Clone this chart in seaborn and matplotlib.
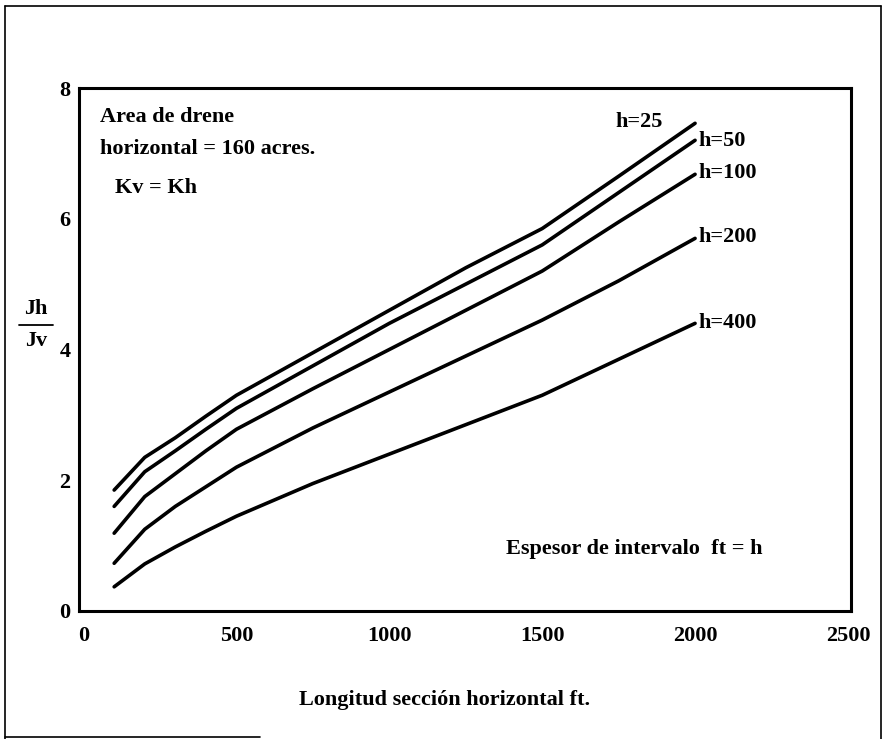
import matplotlib
matplotlib.use("Agg")
import matplotlib.pyplot as plt
import seaborn as sns
import pandas as pd
from matplotlib.lines import Line2D

# ---- data ----
x_ft = [100, 200, 300, 400, 500, 750, 1000, 1250, 1500, 1750, 2000]
h25 = [1.85, 2.35, 2.65, 2.98, 3.30, 3.95, 4.60, 5.25, 5.85, 6.65, 7.46]
h50 = [1.60, 2.13, 2.45, 2.78, 3.10, 3.75, 4.40, 5.00, 5.60, 6.40, 7.20]
h100 = [1.19, 1.75, 2.10, 2.45, 2.78, 3.40, 4.00, 4.60, 5.20, 5.95, 6.68]
h200 = [0.73, 1.25, 1.60, 1.90, 2.20, 2.80, 3.35, 3.90, 4.45, 5.05, 5.70]
h400 = [0.37, 0.72, 0.98, 1.22, 1.45, 1.95, 2.40, 2.85, 3.30, 3.85, 4.40]
series_names = ["h=25", "h=50", "h=100", "h=200", "h=400"]
series_vals = [h25, h50, h100, h200, h400]
x_ticks = [0, 500, 1000, 1500, 2000, 2500]
y_ticks = [0, 2, 4, 6, 8]

rows = []
for name, vals in zip(series_names, series_vals):
    for xv, yv in zip(x_ft, vals):
        rows.append({"L": xv, "J": yv, "h": name})
df = pd.DataFrame(rows)

sns.set_theme(style="white")
plt.rcParams["font.family"] = ["Liberation Serif", "DejaVu Serif"]
plt.rcParams["font.weight"] = "bold"
plt.rcParams["text.color"] = "black"
plt.rcParams["xtick.color"] = "black"
plt.rcParams["ytick.color"] = "black"

W, H = 884, 739
fig = plt.figure(figsize=(W / 100, H / 100), dpi=100)
ax = fig.add_axes([79 / W, 1 - 611 / H, (851 - 79) / W, (611 - 88) / H])

sns.lineplot(data=df, x="L", y="J", hue="h", palette=["black"] * 5,
             linewidth=2.6, legend=False, ax=ax, sort=False)

ax.set_xlim(-15, 2510)
ax.set_ylim(0, 8)
ax.set_xticks(x_ticks)
ax.set_yticks(y_ticks)
ax.set_xticklabels([str(t) for t in x_ticks], fontsize=16, fontweight="bold", color="black")
ax.set_yticklabels([str(t) for t in y_ticks], fontsize=16, fontweight="bold", color="black")
ax.tick_params(axis="both", length=0)
ax.tick_params(axis="x", pad=11)
ax.tick_params(axis="y", pad=6)
ax.set_xlabel("")
ax.set_ylabel("")
for s in ax.spines.values():
    s.set_color("black")
    s.set_linewidth(2.2)

tfs = 16
def ftext(px, py, s, ha="left"):
    fig.text(px / W, 1 - py / H, s, ha=ha, va="center", fontsize=tfs,
             fontweight="bold", color="black")

ftext(615, 122, "h=25")
ftext(698, 141, "h=50")
ftext(698, 173, "h=100")
ftext(698, 237, "h=200")
ftext(698, 323, "h=400")

ftext(100, 117, "Area de drene")
ftext(100, 149, "horizontal = 160 acres.")
ftext(115, 188, "Kv = Kh")
ftext(762, 549, "Espesor de intervalo  ft = h", ha="right")

fig.text(445 / W, 1 - 700 / H, "Longitud sección horizontal ft.", ha="center",
         va="center", fontsize=tfs, fontweight="bold", color="black")

# y label as a fraction Jh / Jv
fig.text(36 / W, 1 - 309 / H, "Jh", ha="center", va="center", fontsize=tfs,
         fontweight="bold", color="black")
fig.text(36 / W, 1 - 341 / H, "Jv", ha="center", va="center", fontsize=tfs,
         fontweight="bold", color="black")
fig.add_artist(Line2D([19 / W, 53 / W], [1 - 325 / H, 1 - 325 / H], color="black", lw=1.3,
                      transform=fig.transFigure))

# outer frame of the scanned page
fr = dict(color="black", lw=1.2, transform=fig.transFigure)
fig.add_artist(Line2D([5 / W, 5 / W], [0, 1 - 6 / H], **fr))
fig.add_artist(Line2D([5 / W, 881 / W], [1 - 6 / H, 1 - 6 / H], **fr))
fig.add_artist(Line2D([881 / W, 881 / W], [0, 1 - 6 / H], **fr))
fig.add_artist(Line2D([5 / W, 260 / W], [1 - 737 / H, 1 - 737 / H], **fr))

fig.savefig("out.png", dpi=100, facecolor="white")
